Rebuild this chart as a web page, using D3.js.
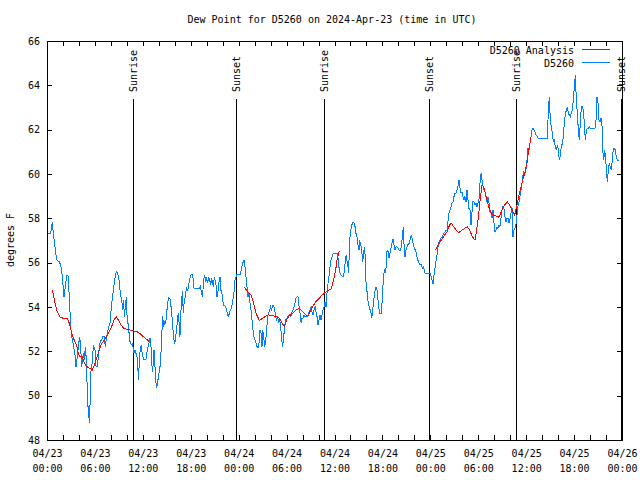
<!DOCTYPE html>
<html><head><meta charset="utf-8">
<script src="https://cdn.jsdelivr.net/npm/d3@7"></script>
<style>
body{margin:0;background:#fff;}
text{font-family:"DejaVu Sans Mono",monospace;font-size:10px;fill:#000;}
</style></head>
<body><svg id="c" width="640" height="480"></svg>
<script>
const titleText = "Dew Point for D5260 on 2024-Apr-23 (time in UTC)";
const yLabel = "degrees F";
const seriesNames = ["D5260 Analysis", "D5260"];
const seriesColors = ["#ff0000", "#0080ff"];
const yTicks = [48, 50, 52, 54, 56, 58, 60, 62, 64, 66];
const sunNames = ["Sunrise", "Sunset", "Sunrise", "Sunset", "Sunrise", "Sunset"];
const sunHours = [10.77, 23.67, 34.69, 47.83, 58.73, 71.88];

const obsHours = [0.17,0.46,0.67,0.79,1.0,1.21,1.5,1.71,1.92,2.13,2.34,2.5,2.67,2.8,3.0,3.17,3.34,3.51,3.63,3.8,3.92,4.09,4.21,4.34,4.55,4.67,4.8,4.93,5.05,5.18,5.34,5.47,5.59,5.72,5.84,6.01,6.14,6.3,6.43,6.55,6.72,6.84,6.97,7.18,7.3,7.47,7.68,7.89,8.1,8.31,8.51,8.68,8.85,9.02,9.18,9.35,9.48,9.6,9.68,9.81,9.93,10.06,10.18,10.31,10.43,10.6,10.73,10.85,11.02,11.14,11.27,11.39,11.48,11.56,11.69,11.81,11.94,12.1,12.4,12.56,12.77,12.9,13.02,13.11,13.23,13.4,13.48,13.61,13.73,13.86,14.02,14.15,14.27,14.4,14.48,14.61,14.73,14.86,14.98,15.11,15.24,15.4,15.53,15.65,15.78,15.86,15.99,16.11,16.24,16.36,16.49,16.57,16.65,16.78,16.86,16.95,17.07,17.2,17.32,17.45,17.57,17.7,17.82,17.95,18.07,18.2,18.32,18.41,18.74,19.07,19.2,19.32,19.45,19.53,19.66,19.74,19.87,19.99,20.12,20.24,20.37,20.5,20.62,20.75,20.83,20.95,21.08,21.16,21.29,21.41,21.54,21.66,21.75,21.87,22.0,22.12,22.33,22.46,22.58,22.71,22.83,22.96,23.08,23.21,23.33,23.46,23.54,23.67,23.79,24.17,24.29,24.5,24.67,24.79,24.92,25.04,25.17,25.29,25.42,25.54,25.67,25.8,25.92,26.05,26.17,26.3,26.42,26.55,26.67,26.8,26.92,27.0,27.13,27.26,27.38,27.51,27.63,27.76,27.88,28.01,28.13,28.26,28.38,28.51,28.63,28.76,28.88,29.01,29.13,29.26,29.38,29.51,29.64,29.76,29.89,30.01,30.14,30.34,30.47,30.6,30.68,30.8,30.93,31.05,31.18,31.31,31.43,31.56,31.68,31.81,31.93,32.06,32.18,32.31,32.56,32.68,32.81,32.93,33.06,33.18,33.31,33.43,33.56,33.68,33.81,33.93,34.06,34.18,34.31,34.44,34.56,34.69,34.81,34.94,35.06,35.19,35.31,35.44,35.56,35.69,35.81,35.94,36.31,36.44,36.52,36.61,36.77,36.94,37.15,37.27,37.4,37.48,37.57,37.69,37.78,37.86,37.98,38.11,38.28,38.44,38.57,38.69,38.82,38.94,39.07,39.15,39.28,39.4,39.53,39.65,39.74,39.86,39.95,40.07,40.15,40.28,40.4,40.53,40.66,40.78,40.91,40.99,41.11,41.28,41.41,41.53,41.66,41.91,41.99,42.12,42.24,42.37,42.49,42.58,42.7,42.83,42.95,43.08,43.2,43.33,43.45,43.58,43.7,43.83,43.95,44.08,44.29,44.41,44.54,44.62,44.7,44.83,44.91,44.99,45.12,45.25,45.37,45.5,45.62,45.75,45.87,46.0,46.12,46.25,46.37,46.5,46.62,46.75,46.87,47.0,47.12,47.25,47.37,47.79,48.04,48.21,48.33,48.46,48.58,48.71,48.84,48.96,49.09,49.21,49.34,49.46,49.59,49.71,49.84,49.96,50.09,50.21,50.34,50.46,50.59,50.71,50.84,50.96,51.09,51.21,51.34,51.46,51.59,51.72,51.84,51.97,52.09,52.22,52.34,52.47,52.59,52.72,52.84,52.97,53.09,53.22,53.34,53.47,53.59,53.72,53.84,53.97,54.09,54.22,54.35,54.47,54.6,54.72,54.85,54.97,55.1,55.22,55.35,55.47,55.6,55.72,55.85,55.97,56.1,56.22,56.35,56.47,56.6,56.72,56.85,56.97,57.1,57.22,57.35,57.47,57.6,57.72,57.85,57.97,58.1,58.22,58.35,58.47,58.6,58.72,58.85,58.97,59.1,59.22,59.35,59.47,59.6,59.72,59.85,59.97,60.1,60.23,60.36,60.48,60.61,60.73,60.86,60.98,61.11,61.23,61.36,61.48,62.65,62.78,62.9,63.03,63.15,63.28,63.4,63.53,63.65,63.78,63.9,64.03,64.15,64.28,64.4,64.53,64.65,64.78,64.9,65.03,65.15,65.28,65.4,65.53,65.66,65.78,65.91,66.03,66.16,66.28,66.41,66.53,66.66,66.78,66.91,67.03,67.16,67.28,67.41,67.53,67.66,67.78,67.91,68.03,68.62,68.75,68.87,69.0,69.12,69.25,69.37,69.5,69.58,69.71,69.83,69.96,70.08,70.16,70.29,70.41,70.54,70.66,70.79,70.91,71.04,71.16,71.29,71.41,71.62];
const obsValues = [57.32,57.32,57.85,57.32,56.72,56.12,56.05,55.9,55.37,54.47,55.07,55.45,55.37,54.32,52.96,52.51,52.21,51.84,51.31,51.76,52.21,52.66,52.21,51.31,51.91,51.61,52.21,51.61,50.11,49.21,48.75,51.08,51.16,51.91,52.21,52.06,51.31,51.31,51.76,52.21,52.51,52.51,52.66,52.66,52.21,52.66,53.04,53.27,54.17,54.77,55.29,55.6,55.52,55.22,54.62,54.32,53.87,54.32,53.57,54.02,54.47,53.27,53.27,52.66,52.36,52.29,52.36,51.91,52.06,51.91,51.76,51.16,50.71,51.76,52.06,52.29,51.84,51.64,51.64,52.06,52.36,52.59,52.21,51.46,51.08,52.06,51.61,50.71,50.33,50.63,51.01,51.31,51.91,52.96,53.57,53.12,53.34,53.27,53.72,54.17,54.42,54.35,54.02,53.57,52.96,52.59,52.33,52.66,52.96,53.57,53.72,52.96,52.66,53.87,54.32,54.7,53.72,54.32,54.47,54.85,54.77,54.85,55.18,55.4,55.48,55.45,55.22,54.85,54.85,54.85,54.92,54.7,54.47,54.77,55.29,55.45,55.15,55.29,55.07,55.37,55.22,55.0,55.29,55.07,54.92,55.37,55.15,55.0,54.47,54.7,55.15,55.37,54.77,54.7,54.32,54.09,54.02,53.94,53.72,53.54,53.72,53.87,53.94,54.17,54.47,54.77,55.22,55.37,55.49,55.45,55.6,55.97,56.12,55.82,55.37,54.92,54.47,54.62,54.17,53.87,53.42,52.96,52.66,52.51,52.36,52.21,52.14,52.36,52.96,52.81,52.21,52.96,52.66,52.21,52.51,52.96,53.57,53.72,53.87,54.02,53.87,54.05,54.06,53.87,53.57,53.42,53.57,53.27,53.42,53.12,52.51,52.21,52.66,53.12,53.42,53.49,53.57,53.64,53.57,53.64,53.79,53.87,54.02,54.17,54.39,54.47,54.47,54.02,53.72,53.3,53.49,53.49,53.64,53.57,53.57,53.64,53.79,53.87,54.02,53.79,53.64,53.87,54.02,53.79,53.57,53.19,53.42,53.64,53.42,53.64,53.87,54.02,54.24,54.02,54.62,55.07,55.37,55.82,56.12,56.27,56.39,56.42,56.42,56.2,55.97,55.6,55.45,55.4,55.37,55.82,56.2,56.35,56.05,55.82,55.52,56.8,57.32,57.63,57.81,57.81,57.63,57.32,57.17,56.8,56.57,56.95,56.87,56.57,56.05,56.42,56.72,56.2,55.07,54.7,54.32,54.17,53.87,53.87,53.49,53.87,54.32,54.47,54.85,54.89,54.47,54.02,53.72,53.72,54.62,55.22,55.67,55.6,55.82,56.57,56.5,56.2,56.42,56.65,56.87,57.05,56.8,56.57,56.72,56.72,56.65,56.57,56.54,56.87,57.32,57.63,56.87,56.27,56.5,56.65,56.72,56.87,56.87,57.1,57.25,57.02,56.8,56.65,56.57,56.42,56.2,56.05,55.97,55.9,55.9,55.75,55.82,55.67,55.49,55.49,55.49,55.22,55.04,55.45,55.75,56.05,56.35,56.72,56.95,57.02,57.1,57.17,57.25,57.32,57.4,57.47,57.47,57.85,58.23,58.38,58.53,58.68,58.75,58.98,59.13,59.13,59.28,59.43,59.73,59.35,59.13,59.2,58.98,58.83,58.98,58.75,59.28,58.83,58.45,58.38,57.7,58.3,58.75,58.75,58.6,58.68,58.53,58.68,58.83,59.58,60.03,59.73,59.43,59.28,59.2,58.98,58.75,58.98,58.68,58.3,58.23,58.0,58.38,57.78,57.4,57.47,57.62,57.55,57.7,57.62,58.0,58.38,58.53,58.45,58.08,57.85,58.0,58.0,57.78,57.93,58.23,58.53,57.17,57.47,57.55,57.7,58.15,58.53,58.75,58.98,59.28,59.58,59.96,60.11,60.03,60.18,60.6,61.16,61.08,61.38,61.68,61.99,62.09,61.99,61.91,61.76,61.71,61.61,61.61,62.89,63.49,62.36,62.14,61.84,61.46,61.53,61.23,61.08,61.31,61.08,60.63,60.86,61.23,61.38,61.68,62.29,62.66,62.89,63.04,62.74,62.66,62.59,62.74,62.89,63.34,63.94,64.47,63.34,62.74,61.99,61.53,62.29,63.04,63.04,62.89,62.29,61.53,61.91,62.06,62.06,62.14,62.06,62.06,62.44,63.49,63.19,62.44,62.36,62.51,62.14,61.08,60.63,61.08,60.63,60.03,59.65,60.18,60.48,60.33,60.18,60.63,61.16,61.16,61.08,60.78,60.63,60.63];

const anaHours = [0.67,1.0,1.29,1.63,2.05,2.55,2.8,3.0,3.3,3.71,3.92,4.13,4.42,4.67,4.97,5.38,5.68,5.93,6.22,6.55,6.85,7.18,7.47,7.8,8.1,8.39,8.68,8.93,9.27,9.6,9.98,10.39,10.81,11.23,11.65,12.06,12.48,12.77,18.0,24.71,25.13,25.54,25.75,25.96,26.17,26.59,27.0,27.42,27.72,28.26,28.68,29.09,29.43,29.76,30.01,30.34,30.76,31.18,31.6,32.01,32.43,32.64,32.93,33.27,33.68,34.1,34.44,34.73,35.14,35.56,35.77,35.98,36.15,36.31,36.61,42.0,48.63,48.96,49.38,49.8,50.09,50.42,50.63,51.05,51.55,52.09,52.63,52.93,53.26,53.59,53.8,54.05,54.26,54.47,54.68,54.89,55.1,55.3,55.64,55.89,56.26,56.6,56.89,57.31,57.64,57.93,58.22,58.56,58.81,59.06,59.31,59.56,59.81,60.1,60.31,60.48,60.61];
const anaValues = [54.77,54.17,53.79,53.54,53.49,53.46,53.27,52.96,52.59,52.29,51.91,51.76,51.76,51.46,51.31,51.23,51.16,51.38,51.69,52.06,52.36,52.51,52.66,52.89,53.12,53.42,53.57,53.42,53.19,53.04,52.99,52.96,52.93,52.89,52.81,52.66,52.54,52.44,null,54.89,54.69,54.54,54.32,54.02,53.72,53.39,53.49,53.6,53.64,53.61,53.57,53.49,53.27,53.12,53.42,53.6,53.72,53.87,53.94,53.79,53.64,53.57,53.79,54.02,54.24,54.39,54.54,54.62,54.74,54.8,55.07,55.37,55.67,56.12,56.53,null,56.57,56.8,57.02,57.25,57.4,57.7,57.78,57.55,57.35,57.5,57.62,57.47,57.17,57.02,57.47,58.15,58.9,59.5,59.43,59.13,58.83,58.53,58.23,58.15,58.1,58.05,58.3,58.6,58.75,58.6,58.38,58.15,58.53,58.98,59.35,59.73,60.03,60.5,61.08,61.38,61.68];

const t0 = Date.UTC(2024, 3, 23);
const toDate = h => new Date(t0 + h * 3600e3);

const svg = d3.select("#c");
const L = 47, R = 622, T = 41, B = 440;
const x = d3.scaleUtc().domain([toDate(0), toDate(72)]).range([L, R]);
const y = d3.scaleLinear().domain([48, 66]).range([B, T]);

svg.append("rect").attr("width", 640).attr("height", 480).attr("fill", "#fff");

svg.append("text").attr("x", 332).attr("y", 23).attr("text-anchor", "middle").text(titleText);
svg.append("text").attr("transform", "translate(10,240) rotate(-90)")
  .attr("text-anchor", "middle").attr("dy", "0.35em").text(yLabel);

const tickVals = d3.utcHour.every(2).range(toDate(0), toDate(72.01));
const fmtD = d3.utcFormat("%m/%d"), fmtT = d3.utcFormat("%H:%M");

const gb = svg.append("g").attr("transform", `translate(0,${B})`)
  .call(d3.axisBottom(x).tickValues(tickVals).tickSize(-5).tickPadding(8).tickFormat(() => ""));
gb.selectAll(".tick").each(function(d) {
  const t = d3.select(this).select("text");
  if (d.getUTCHours() % 6 === 0) {
    t.text(null).attr("y", 0).attr("dy", null);
    t.append("tspan").attr("x", 0).attr("y", 17).text(fmtD(d));
    t.append("tspan").attr("x", 0).attr("y", 32).text(fmtT(d));
  }
});
svg.append("g").attr("transform", `translate(0,${T})`)
  .call(d3.axisTop(x).tickValues(tickVals).tickSize(-5).tickFormat(() => ""));
svg.append("g").attr("transform", `translate(${L},0)`)
  .call(d3.axisLeft(y).tickValues(yTicks).tickSize(-5).tickPadding(7).tickFormat(d3.format("d")));
svg.append("g").attr("transform", `translate(${R},0)`)
  .call(d3.axisRight(y).tickValues(yTicks).tickSize(-5).tickFormat(() => ""));

svg.selectAll(".domain").remove();
svg.selectAll(".tick line").attr("stroke", "#000").attr("shape-rendering", "crispEdges");
svg.selectAll(".tick text").attr("font-family", "DejaVu Sans Mono").attr("font-size", 10).attr("fill", "#000");

const sg = svg.append("g");
sunHours.forEach((h, i) => {
  const xx = Math.round(x(toDate(h))) + 0.5;
  sg.append("line").attr("x1", xx).attr("x2", xx).attr("y1", 99).attr("y2", B)
    .attr("stroke", "#000").attr("shape-rendering", "crispEdges");
  sg.append("text").attr("transform", `translate(${xx},92) rotate(-90)`)
    .attr("text-anchor", "start").attr("dy", "0.35em").text(sunNames[i]);
});

const obs = obsHours.map((h, i) => ({t: toDate(h), v: obsValues[i]}));
const ana = anaHours.map((h, i) => ({t: toDate(h), v: anaValues[i]}));
const line = d3.line().defined(d => d.v != null).x(d => x(d.t)).y(d => y(d.v));

svg.append("path").datum(obs).attr("d", line).attr("fill", "none")
  .attr("stroke", seriesColors[1]).attr("stroke-width", 1).attr("shape-rendering", "crispEdges");
svg.append("path").datum(ana).attr("d", line).attr("fill", "none")
  .attr("stroke", seriesColors[0]).attr("stroke-width", 1).attr("shape-rendering", "crispEdges");

const lg = svg.append("g");
seriesNames.forEach((n, i) => {
  const yy = 50 + i * 13;
  lg.append("text").attr("x", 574).attr("y", yy).attr("dy", "0.35em")
    .attr("text-anchor", "end").text(n);
  lg.append("rect").attr("x", 582).attr("y", yy - 1).attr("width", 28).attr("height", 1)
    .attr("fill", seriesColors[i]);
});

svg.append("rect").attr("x", L + 0.5).attr("y", T + 0.5).attr("width", R - L).attr("height", B - T)
  .attr("fill", "none").attr("stroke", "#000").attr("shape-rendering", "crispEdges");
</script></body></html>
